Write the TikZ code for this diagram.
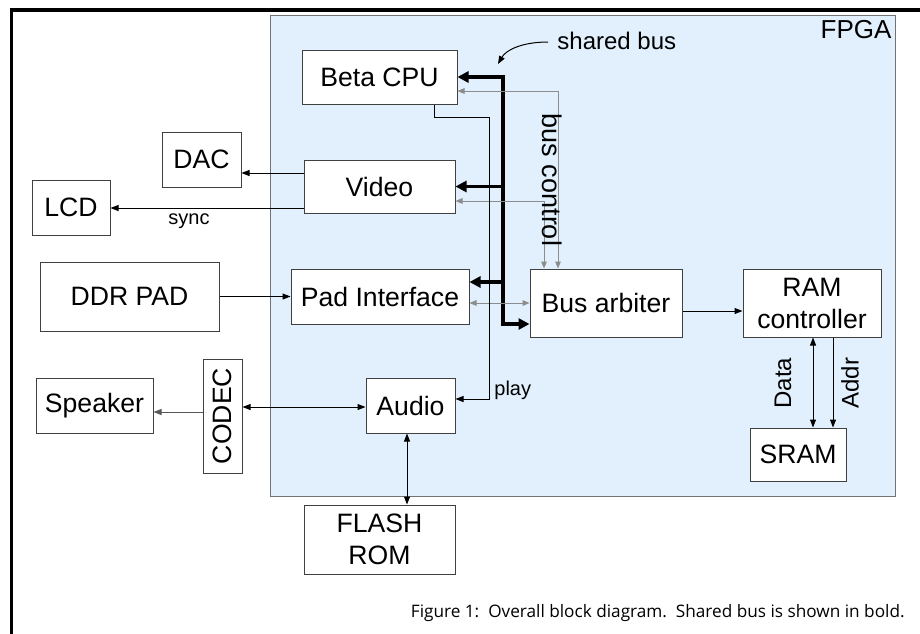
\documentclass[tikz,border=0pt]{standalone}
\usepackage{fontspec}
\setmainfont{Liberation Sans}
\newfontfamily\capfont{Open Sans}
\usetikzlibrary{positioning,arrows.meta}
\definecolor{fpgablue}{RGB}{225,240,252}
\definecolor{ctlgray}{RGB}{140,140,140}

\begin{document}
\begin{tikzpicture}[x=0.5pt,y=-0.5pt,>={Triangle[length=4pt,width=3pt]},
    blk/.style={draw=black!75,fill=white,line width=0.5pt,inner sep=0pt,align=center,font=\fontsize{13.3}{16}\selectfont},
    sig/.style={line width=0.5pt},
    bus/.style={line width=1.7pt,>={Triangle[length=5.5pt,width=5.5pt]}},
    ctl/.style={ctlgray,line width=0.5pt,>={Triangle[length=3.5pt,width=2.8pt]}},
    lbl/.style={inner sep=0pt,font=\fontsize{10}{12}\selectfont}]

    \useasboundingbox (0,0) rectangle (920,633);
    \draw[line width=1.6pt] (11.5,640) -- (11.5,10) -- (930,10);

    % the chip
    \node[draw=black!55,fill=fpgablue,line width=0.5pt,minimum width=312.5pt,minimum height=240.5pt] (fpga) at (582.5,255.5) {};
    \node[inner sep=0pt,font=\fontsize{13}{15}\selectfont] (fpgalbl) at (856,30) {FPGA};

    \node[blk,minimum width=77.5pt,minimum height=27pt] (cpu) at (379.5,77) {Beta CPU};
    \node[blk,minimum width=75.5pt,minimum height=26.5pt] (video) [below of=cpu, node distance=54.75pt] {Video};
    \node[blk,minimum width=89pt,minimum height=27.5pt] (pad) [below of=video, node distance=55pt, xshift=0.25pt] {Pad Interface};
    \node[blk,minimum width=44.5pt,minimum height=27.5pt] (audio) [below of=pad, node distance=54.5pt, xshift=15.25pt] {Audio};
    \node[blk,minimum width=75.5pt,minimum height=34.5pt] (flash) [below of=audio, node distance=67pt, xshift=-15.5pt] {FLASH\\ROM};

    \node[blk,minimum width=76pt,minimum height=34pt] (arb) at (606,303) {Bus arbiter};
    \node[blk,minimum width=69pt,minimum height=34pt] (ram) [right of=arb, node distance=103pt] {RAM\\controller};
    \node[blk,minimum width=48pt,minimum height=26.5pt] (sram) [below of=ram, node distance=75.75pt, xshift=-7pt] {SRAM};

    \node[blk,minimum width=39.5pt,minimum height=27.5pt] (dac) at (201.5,159.5) {DAC};
    \node[blk,minimum width=39pt,minimum height=27.5pt] (lcd) at (71,207.5) {LCD};
    \node[blk,minimum width=89.5pt,minimum height=34.5pt] (ddr) [left of=pad, node distance=125.25pt] {DDR PAD};
    \node[blk,minimum width=58.5pt,minimum height=27.5pt] (speaker) at (94.5,405.5) {Speaker};
    \node[blk,minimum width=19.5pt,minimum height=57pt] (codec) at (222.5,416) {};
    \node[rotate=90,inner sep=0pt,font=\fontsize{13.3}{16}\selectfont] (codectxt) at (codec) {CODEC};

    % shared bus
    \coordinate (bustop) at (503,77);
    \draw[bus,<->] (cpu.east) -- (bustop) -- (bustop |- 0,324) -- (arb.west |- 0,324);
    \draw[bus,->] (bustop |- video.east) -- (video.east);
    \draw[bus,->] (bustop |- 0,282) -- (pad.east |- 0,282);
    \node[inner sep=0pt,anchor=west,font=\fontsize{12}{14}\selectfont] (sharedlbl) at (557,41) {shared bus};
    \coordinate (busmark) at (498,64);
    \draw[sig,->] (548,42) .. controls (522,42) and (506,50) .. (busmark);

    % bus control
    \draw[ctl,<->] (cpu.east |- 0,91) -| (arb.north -| 558,0);
    \draw[ctl,<->] (video.east |- 0,201) -| (arb.north -| 544,0);
    \draw[ctl,<->] (pad.east |- 0,303) -- (arb.west |- 0,303);
    \node[rotate=-90,inner sep=0pt,font=\fontsize{13.5}{16}\selectfont] (ctllbl) at (552,180) {bus control};

    % play
    \draw[sig,->] (cpu.south -| 434,0) -- ++(0,13) -| (489,399) -- (audio.east |- 0,399);
    \node[lbl,anchor=west] (playlbl) at (494,390) {play};

    \draw[sig,->] (video.west |- 0,173) -- (dac.east |- 0,173);
    \draw[sig,->] (video.west |- 0,208) -- (lcd.east |- 0,208);
    \node[lbl] (synclbl) at (189,221) {sync};
    \draw[sig,->] (ddr) -- (pad);
    \draw[sig,->] (arb.east |- 0,311) -- (ram.west |- 0,311);

    \draw[sig,<->] (ram.south -| 813,0) -- (sram.north -| 813,0);
    \draw[sig,->] (ram.south -| 833,0) -- (sram.north -| 833,0);
    \node[rotate=90,inner sep=0pt,font=\fontsize{12}{14}\selectfont] (datalbl) at (783,383) {Data};
    \node[rotate=90,inner sep=0pt,font=\fontsize{12}{14}\selectfont] (addrlbl) at (850,383) {Addr};

    \draw[sig,<->] (codec.east |- 0,407) -- (audio.west |- 0,407);
    \draw[sig,->,black!65] (codec.west |- 0,412) -- (speaker.east |- 0,412);
    \draw[sig,<->] (audio.south -| 407,0) -- (flash.north -| 407,0);

    \node[inner sep=0pt,anchor=east,font=\capfont\fontsize{8.6}{10}\selectfont] (caption) at (905,613) {Figure 1:\ \ Overall block diagram.\ \ Shared bus is shown in bold.};
\end{tikzpicture}
\end{document}
